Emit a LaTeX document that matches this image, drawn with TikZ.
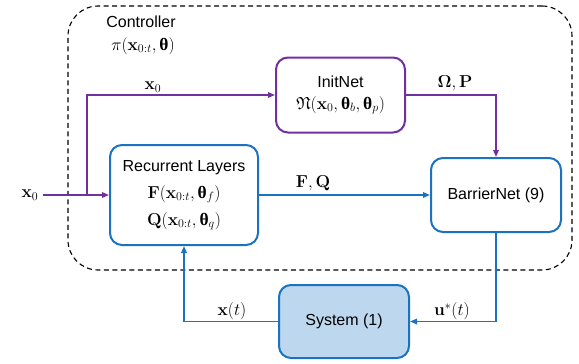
\documentclass[tikz,border=0pt]{standalone}
\usepackage{amsmath,amssymb,bm}
\usepackage[no-math]{fontspec}
\setmainfont{Liberation Sans}
\newfontfamily\grkfont{Liberation Serif}
\newcommand{\btht}{\text{\grkfont\bfseries θ}}
\newcommand{\mth}[1]{{\fontsize{17.5}{22}\selectfont$#1$}}
\usetikzlibrary{arrows.meta}
\definecolor{cpurple}{RGB}{112,48,160}
\definecolor{cblue}{RGB}{26,114,192}
\definecolor{cfill}{RGB}{189,215,238}
\tikzset{
  blk/.style={draw, line width=2pt, rounded corners=12pt, align=center, font=\fontsize{16}{22}\selectfont, inner sep=0pt},
  pbox/.style={blk, draw=cpurple},
  bbox/.style={blk, draw=cblue},
  parrow/.style={draw=cpurple, line width=1.6pt, -{Triangle[length=7pt,width=5.5pt]}},
  barrow/.style={draw=cblue, line width=1.6pt, -{Triangle[length=7pt,width=5.5pt]}},
  lbl/.style={font=\fontsize{16}{20}\selectfont, inner sep=0pt}
}
\begin{document}
\begin{tikzpicture}[x=1pt,y=-1pt]
\useasboundingbox (0,0) rectangle (579,364);
% controller frame
\node[draw, dash pattern=on 5pt off 3.5pt, line width=1.1pt, rounded corners=30pt, minimum width=504pt, minimum height=264pt, inner sep=0pt] (ctrl) at (320,138) {};
\node[lbl] (ctrltxt) at (141,22) {Controller};
\node[lbl] (pi) at (143,46) {\mth{\pi(\mathbf{x}_{0:t},\btht)}};
% blocks
\node[pbox, minimum width=129pt, minimum height=75pt] (init) at (340.5,95) {InitNet\\[0pt]\mth{\mathfrak{N}(\mathbf{x}_0,\btht_b,\btht_p)}};
\node[bbox, minimum width=148pt, minimum height=100pt] (rec) at (184,195) {Recurrent Layers\\[5pt]\mth{\mathbf{F}(\mathbf{x}_{0:t},\btht_f)}\\[5pt]\mth{\mathbf{Q}(\mathbf{x}_{0:t},\btht_q)}};
\node[bbox, minimum width=130pt, minimum height=74pt] (bar) at (496,195) {BarrierNet (9)};
\node[bbox, fill=cfill, minimum width=130pt, minimum height=73pt] (sys) at (344,321.5) {System (1)};
% input
\node[lbl] (x0in) at (30,195) {\mth{\mathbf{x}_0}};
\coordinate (in0) at (43,195);
\coordinate (br) at (87,195);
\draw[parrow] (in0) -- (rec.west);
\draw[parrow] (br) |- (init.west);
\draw[parrow] (init.east) -| (bar.north);
\draw[barrow] (rec.east) -- (bar.west);
\draw[barrow] (bar.south) |- (sys.east);
\draw[barrow] (sys.west) -| (rec.south);
% labels
\node[lbl] (lx0) at (153,87) {\mth{\mathbf{x}_0}};
\node[lbl] (lop) at (455,83) {\mth{\bm{\Omega},\mathbf{P}}};
\node[lbl] (lfq) at (313,183) {\mth{\mathbf{F},\mathbf{Q}}};
\node[lbl] (lxt) at (232,311) {\mth{\mathbf{x}(t)}};
\node[lbl] (lut) at (452,311) {\mth{\mathbf{u}^*(t)}};
\end{tikzpicture}
\end{document}
